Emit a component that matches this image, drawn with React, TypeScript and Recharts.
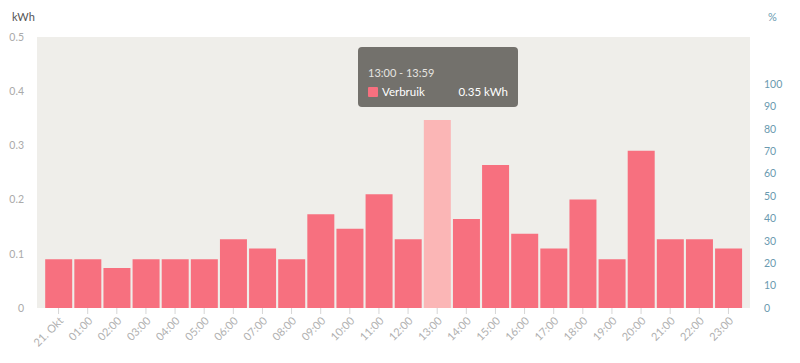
import { Bar, ComposedChart, CartesianGrid, Cell, Line, Tooltip, XAxis, YAxis } from "recharts";

const hours = [
  "21. Okt", "01:00", "02:00", "03:00", "04:00", "05:00", "06:00", "07:00",
  "08:00", "09:00", "10:00", "11:00", "12:00", "13:00", "14:00", "15:00",
  "16:00", "17:00", "18:00", "19:00", "20:00", "21:00", "22:00", "23:00",
];
const usage = [
  0.09, 0.09, 0.074, 0.09, 0.09, 0.09, 0.127, 0.11, 0.09, 0.173, 0.146, 0.21,
  0.127, 0.347, 0.164, 0.264, 0.137, 0.11, 0.2, 0.09, 0.29, 0.127, 0.127, 0.11,
];
const kwhTicks = [0, 0.1, 0.2, 0.3, 0.4, 0.5];
const pctTicks = [0, 10, 20, 30, 40, 50, 60, 70, 80, 90, 100];
const activeIndex = 13;

// pct has no values in this view; the axis is still shown
const data = hours.map((hour, i) => ({ hour, usage: usage[i], pct: null }));

const font = "Lato, 'Open Sans', sans-serif";

function TipBox() {
  return (
    <div
      style={{
        width: 160,
        height: 60,
        boxSizing: "border-box",
        background: "#73716c",
        borderRadius: 4,
        padding: "19px 10px 0 10px",
        fontFamily: font,
        color: "#fff",
      }}
    >
      <div style={{ fontSize: 11, color: "#e6e4e0", marginBottom: 6 }}>13:00 - 13:59</div>
      <div style={{ display: "flex", alignItems: "center", fontSize: 11.5 }}>
        <span style={{ width: 10, height: 10, background: "#f7707f", borderRadius: 1, marginRight: 4 }} />
        <span>Verbruik</span>
        <span style={{ marginLeft: "auto" }}>0.35 kWh</span>
      </div>
    </div>
  );
}

export default function App() {
  return (
    <div style={{ position: "absolute", left: 0, top: 0, width: 800, height: 363, background: "#fff" }}>
      <span style={{ position: "absolute", left: 12, top: 10, fontFamily: font, fontSize: 11, color: "#555" }}>kWh</span>
      <span style={{ position: "absolute", left: 768, top: 10, fontFamily: font, fontSize: 11, color: "#6a9ab0" }}>%</span>
      <ComposedChart
        width={800}
        height={363}
        data={data}
        margin={{ top: 37, right: 0, left: 0, bottom: 0 }}
        barCategoryGap={1.2}
      >
        <CartesianGrid fill="#efeeea" horizontal={false} vertical={false} />
        <XAxis
          dataKey="hour"
          interval={0}
          padding={{ left: 7, right: 7 }}
          axisLine={false}
          tickLine={{ stroke: "#d6d6d6" }}
          tick={{ fill: "#b0b0b0", fontSize: 11, fontFamily: font, angle: -45, textAnchor: "end" }}
          height={55}
        />
        <YAxis
          yAxisId="kwh"
          domain={[0, 0.5]}
          ticks={kwhTicks}
          width={37}
          axisLine={false}
          tickLine={false}
          tickMargin={7}
          tick={{ fill: "#aaa", fontSize: 10.5, fontFamily: font }}
        />
        <YAxis
          yAxisId="pct"
          type="number"
          orientation="right"
          domain={[0, 121]}
          allowDataOverflow
          ticks={pctTicks}
          interval={0}
          width={50}
          axisLine={false}
          tickLine={false}
          tickMargin={8}
          tick={{ fill: "#6a9ab0", fontSize: 10.5, fontFamily: font }}
        />
        <Tooltip
          defaultIndex={activeIndex}
          active
          cursor={false}
          position={{ x: 358, y: 47 }}
          content={() => <TipBox />}
          isAnimationActive={false}
        />
        <Bar dataKey="usage" yAxisId="kwh" isAnimationActive={false}>
          {data.map((_, i) => (
            <Cell key={i} fill={i === activeIndex ? "#fbb6b6" : "#f7707f"} />
          ))}
        </Bar>
        <Line dataKey="pct" yAxisId="pct" stroke="#6a9ab0" dot={false} activeDot={false} isAnimationActive={false} />
      </ComposedChart>
    </div>
  );
}
